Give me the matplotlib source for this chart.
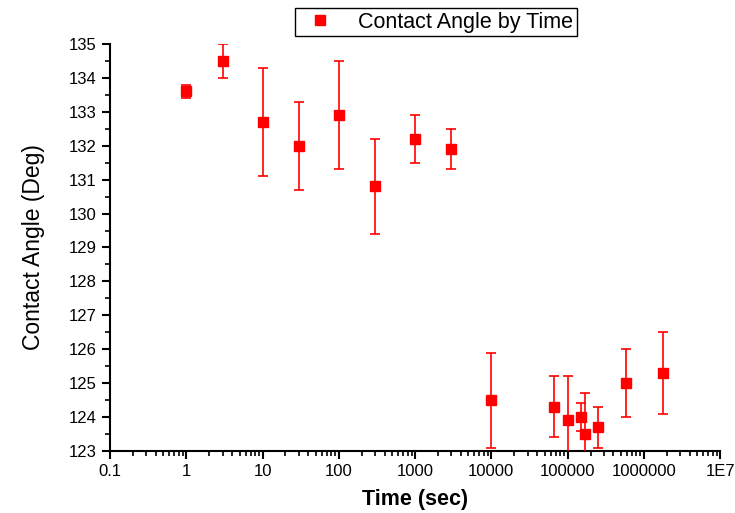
import numpy as np
import matplotlib.pyplot as plt
from matplotlib.lines import Line2D
from matplotlib.ticker import FixedLocator, LogLocator, NullFormatter, MultipleLocator

plt.rcParams['font.family'] = ['Liberation Sans', 'DejaVu Sans']

# contact angle vs time
time_sec = [1, 3, 10, 30, 100, 300, 1000, 3000, 10000, 66000, 100000,
            148000, 167000, 250000, 590000, 1780000]
angle = [133.6, 134.5, 132.7, 132.0, 132.9, 130.8, 132.2, 131.9, 124.5,
         124.3, 123.9, 124.0, 123.5, 123.7, 125.0, 125.3]
err = [0.2, 0.5, 1.6, 1.3, 1.6, 1.4, 0.7, 0.6, 1.4, 0.9, 1.3, 0.4, 1.2,
       0.6, 1.0, 1.2]
xticks = [0.1, 1, 10, 100, 1000, 10000, 100000, 1000000, 1e7]
xlabels = ['0.1', '1', '10', '100', '1000', '10000', '100000', '1000000', '1E7']

fig = plt.figure(figsize=(7.35, 5.13), dpi=100)
ax = fig.add_axes([0.1497, 0.1209, 0.83, 0.7933])

ax.errorbar(time_sec, angle, yerr=err, fmt='s', color='red', ecolor='red',
            markersize=7, elinewidth=1.2, capsize=3.3, capthick=1.2, zorder=3)

ax.set_xscale('log')
ax.set_xlim(0.1, 1e7)
ax.set_ylim(123, 135)
ax.xaxis.set_major_locator(FixedLocator(xticks))
ax.set_xticklabels(xlabels)
ax.xaxis.set_minor_locator(LogLocator(base=10, subs=np.arange(2, 10)))
ax.xaxis.set_minor_formatter(NullFormatter())
ax.yaxis.set_major_locator(MultipleLocator(1))
ax.yaxis.set_minor_locator(MultipleLocator(0.5))

ax.spines['top'].set_visible(False)
ax.spines['right'].set_visible(False)
ax.spines['left'].set_linewidth(1.5)
ax.spines['bottom'].set_linewidth(1.5)
ax.tick_params(which='major', direction='out', length=6, width=1.5, labelsize=12)
ax.tick_params(which='minor', direction='out', length=3.5, width=1.2)

ax.set_xlabel('Time (sec)', fontsize=15.5, fontweight='bold', labelpad=7)
ax.set_ylabel('Contact Angle (Deg)', fontsize=16.5, labelpad=17)

handle = Line2D([], [], marker='s', ls='', color='red', markersize=7)
leg = ax.legend([handle], ['Contact Angle by Time'], loc='center',
                bbox_to_anchor=(0.593, 0.957), bbox_transform=fig.transFigure,
                fontsize=15.5, fancybox=False, edgecolor='black', framealpha=1,
                borderpad=0.15, handletextpad=0.8, handlelength=2.0)
leg.get_frame().set_linewidth(1.0)

plt.savefig('out.png', dpi=100)
